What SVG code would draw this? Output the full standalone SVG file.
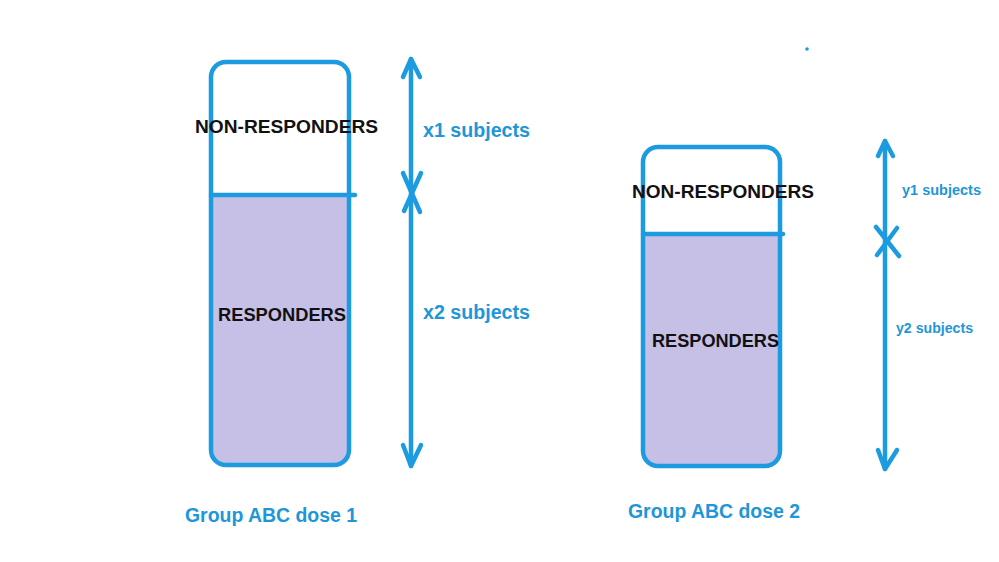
<svg xmlns="http://www.w3.org/2000/svg" width="999" height="562" viewBox="0 0 999 562">
<style>
.box{fill:none;stroke:#1c9be0;stroke-width:4.5}
.fill{fill:#c6bfe6}
.ln{fill:none;stroke:#1c9be0;stroke-width:4.5;stroke-linecap:round;stroke-linejoin:round}
.lbl{font-family:"Liberation Sans",Arial,sans-serif;font-weight:bold;fill:#111;font-size:19px;text-anchor:middle}
.blue{font-family:"Liberation Sans",Arial,sans-serif;font-weight:bold;fill:#1e96d8}
</style>
<rect width="999" height="562" fill="#fff"/>
<g id="group1">
  <path class="fill" d="M211,195 H349 V450 Q349,465 334,465 H226 Q211,465 211,450 Z"/>
  <rect class="box" x="211" y="62" width="138" height="403" rx="15"/>
  <line class="ln" x1="211" y1="195" x2="355" y2="195"/>
  <text class="lbl" x="286.5" y="133" textLength="183" lengthAdjust="spacingAndGlyphs">NON-RESPONDERS</text>
  <text class="lbl" x="282" y="321" textLength="128" lengthAdjust="spacingAndGlyphs">RESPONDERS</text>
  <text class="blue" x="185" y="522" font-size="19.5" textLength="172" lengthAdjust="spacingAndGlyphs">Group ABC dose 1</text>
</g>
<g id="group2">
  <path class="fill" d="M643,234 H780 V451 Q780,466 765,466 H658 Q643,466 643,451 Z"/>
  <rect class="box" x="643" y="147" width="137" height="319" rx="15"/>
  <line class="ln" x1="643" y1="234" x2="783" y2="234"/>
  <text class="lbl" x="723" y="198" textLength="182" lengthAdjust="spacingAndGlyphs">NON-RESPONDERS</text>
  <text class="lbl" x="715.5" y="347" textLength="127" lengthAdjust="spacingAndGlyphs">RESPONDERS</text>
  <text class="blue" x="628" y="518" font-size="19.5" textLength="172" lengthAdjust="spacingAndGlyphs">Group ABC dose 2</text>
</g>
<g id="connectors">
  <line class="ln" x1="411" y1="59" x2="411" y2="466"/>
  <polyline class="ln" points="403,77 411,59 420,77"/>
  <polyline class="ln" points="403,445 411,466 421,445"/>
  <line class="ln" x1="403" y1="173" x2="420" y2="212"/>
  <line class="ln" x1="421" y1="173" x2="404" y2="211"/>
  <line class="ln" x1="885" y1="141" x2="885" y2="469"/>
  <polyline class="ln" points="878,156 885,141 893,156"/>
  <polyline class="ln" points="878,450 885,469 897,450"/>
  <line class="ln" x1="876" y1="227" x2="899" y2="256"/>
  <line class="ln" x1="897" y1="228" x2="877" y2="255"/>
</g>
<g id="labels">
  <text class="blue" x="423" y="137" font-size="19.5" textLength="107" lengthAdjust="spacingAndGlyphs">x1 subjects</text>
  <text class="blue" x="423" y="319" font-size="19.5" textLength="107" lengthAdjust="spacingAndGlyphs">x2 subjects</text>
  <text class="blue" x="902" y="195" font-size="14" textLength="79" lengthAdjust="spacingAndGlyphs">y1 subjects</text>
  <text class="blue" x="896" y="333" font-size="14" textLength="77" lengthAdjust="spacingAndGlyphs">y2 subjects</text>
</g>
<circle cx="807" cy="49" r="1.8" fill="#1c9be0"/>
</svg>
